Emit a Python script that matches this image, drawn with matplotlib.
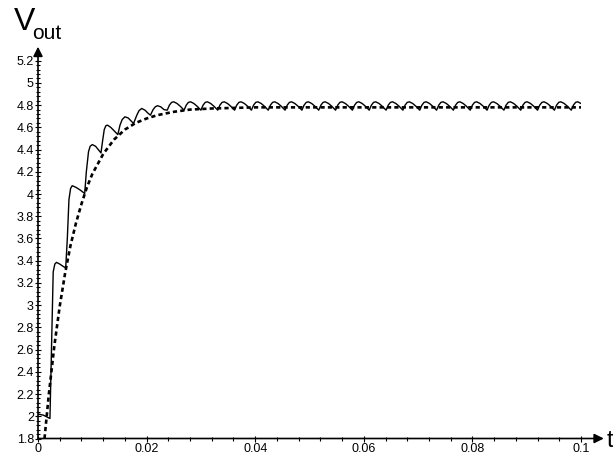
import numpy as np
import matplotlib
matplotlib.use("Agg")
import matplotlib.pyplot as plt
from matplotlib.ticker import MultipleLocator, FuncFormatter

plt.rcParams['font.family'] = ['Liberation Sans', 'DejaVu Sans']

# dashed envelope
env_t = [0.0012, 0.002, 0.003, 0.004, 0.005, 0.006, 0.007, 0.008, 0.009, 0.010,
         0.012, 0.014, 0.016, 0.018, 0.020, 0.022, 0.025, 0.028, 0.032, 0.036,
         0.040, 0.050, 0.060, 0.070, 0.080, 0.090, 0.100]
env_v = [1.80, 2.20, 2.63, 2.99, 3.29, 3.54, 3.74, 3.91, 4.06, 4.18,
         4.36, 4.49, 4.58, 4.64, 4.68, 4.71, 4.74, 4.76, 4.77, 4.775,
         4.78, 4.78, 4.78, 4.78, 4.78, 4.78, 4.78]

# solid output, start-up part
start_t = [0.0, 0.0010, 0.0018, 0.0022,
           0.0028, 0.0031, 0.0034, 0.0040, 0.0046, 0.0051,
           0.0054, 0.0057, 0.0060, 0.0063, 0.0070, 0.0078, 0.0086,
           0.0089, 0.0093, 0.0096, 0.0100, 0.0106, 0.0111, 0.0116,
           0.0119, 0.0122, 0.0125, 0.0128, 0.0134, 0.0141, 0.0147,
           0.0151, 0.0155, 0.0160, 0.0166, 0.0171, 0.0176,
           0.0182, 0.0186, 0.0191, 0.0197, 0.0202, 0.0207,
           0.0212, 0.0216, 0.0220, 0.0226, 0.0232]
start_v = [2.02, 2.01, 1.99, 1.98,
           3.30, 3.37, 3.385, 3.37, 3.35, 3.335,
           3.60, 3.95, 4.05, 4.075, 4.06, 4.035, 4.005,
           4.20, 4.38, 4.43, 4.445, 4.43, 4.40, 4.37,
           4.48, 4.58, 4.615, 4.62, 4.60, 4.565, 4.535,
           4.62, 4.67, 4.695, 4.685, 4.66, 4.635,
           4.71, 4.75, 4.77, 4.755, 4.73, 4.71,
           4.76, 4.785, 4.795, 4.785, 4.76]

# steady ripple: one cycle (time after the notch, value) and the notch times
ripple_dt = [0.0, 0.0004, 0.0008, 0.0012, 0.0018, 0.0024]
ripple_v = [4.755, 4.80, 4.825, 4.83, 4.815, 4.79]
notch_t = [0.0238, 0.0269, 0.0300, 0.0331, 0.0362, 0.0393, 0.0424, 0.0455,
           0.0486, 0.0517, 0.0548, 0.0579, 0.0610, 0.0641, 0.0672, 0.0703,
           0.0734, 0.0765, 0.0796, 0.0827, 0.0858, 0.0889, 0.0920, 0.0951,
           0.0982]

sol_t = list(start_t)
sol_v = list(start_v)
for tn in notch_t:
    for dt, v in zip(ripple_dt, ripple_v):
        if tn + dt <= 0.1:
            sol_t.append(tn + dt)
            sol_v.append(v)

fig = plt.figure(figsize=(6.13, 4.58), dpi=100)
ax = fig.add_axes([38 / 613, (458 - 438.5) / 458, 543 / 613, 377.8 / 458])

ax.plot(sol_t, sol_v, color='black', lw=1.0)
ax.plot(env_t, env_v, color='black', lw=1.9, dashes=(1.6, 1.2))

ax.set_xlim(0, 0.1)
ax.set_ylim(1.8, 5.2)
for s in ax.spines.values():
    s.set_visible(False)

ax.xaxis.set_major_locator(MultipleLocator(0.02))
ax.xaxis.set_minor_locator(MultipleLocator(0.004))
ax.yaxis.set_major_locator(MultipleLocator(0.2))
ax.yaxis.set_minor_locator(MultipleLocator(0.04))

def fmt(v, pos):
    s = ('%.3f' % v).rstrip('0').rstrip('.')
    return s

ax.xaxis.set_major_formatter(FuncFormatter(fmt))
ax.yaxis.set_major_formatter(FuncFormatter(fmt))
ax.tick_params(which='major', direction='inout', length=4, width=0.8, labelsize=9, pad=1)
ax.tick_params(which='minor', direction='inout', length=2.5, width=0.8)

arrow = dict(arrowstyle='-|>', mutation_scale=14, lw=1.2, color='black', shrinkA=0, shrinkB=0)
ax.annotate('', xy=(1.042, 0), xytext=(0, 0), xycoords='axes fraction',
            textcoords='axes fraction', arrowprops=arrow, annotation_clip=False)
ax.annotate('', xy=(0, 1.037), xytext=(0, 0), xycoords='axes fraction',
            textcoords='axes fraction', arrowprops=arrow, annotation_clip=False)

fig.text(607 / 613, 1 - 441 / 458, 't', fontsize=17, va='center', ha='left')
fig.text(14 / 613, 1 - 30 / 458, 'V', fontsize=23, va='baseline', ha='left')
fig.text(32 / 613, 1 - 39 / 458, 'out', fontsize=15, va='baseline', ha='left')

fig.savefig('out.png', dpi=100)
